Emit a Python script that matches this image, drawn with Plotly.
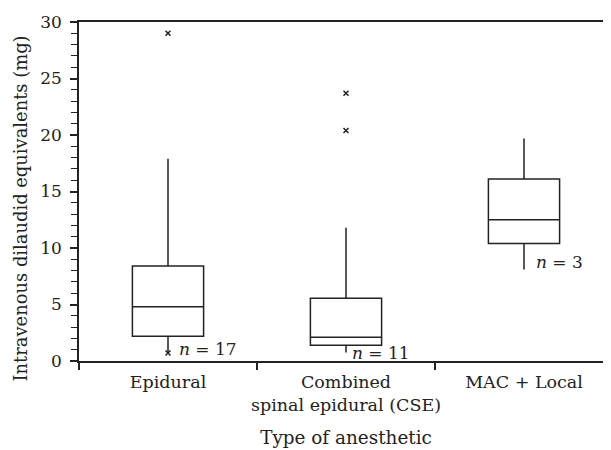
import plotly.graph_objects as go

categories = ["Epidural", "Combined<br>spinal epidural (CSE)", "MAC + Local"]
q1 = [2.2, 1.4, 10.4]
median = [4.8, 2.1, 12.5]
q3 = [8.4, 5.55, 16.1]
lowerfence = [0.7, 0.75, 8.1]
upperfence = [17.9, 11.8, 19.7]

outlier_cat = ["Epidural", "Epidural", "Combined<br>spinal epidural (CSE)", "Combined<br>spinal epidural (CSE)"]
outlier_val = [29.0, 0.7, 23.7, 20.4]

n_labels = ["<i>n</i> = 17", "<i>n</i> = 11", "<i>n</i> = 3"]
n_label_x = [0.05, 1.02, 2.054]
n_label_y = [1.06, 0.75, 8.76]

FONT = "DejaVu Serif, Liberation Serif, serif"
INK = "#222222"

fig = go.Figure()
fig.add_trace(go.Box(
    x=categories, q1=q1, median=median, q3=q3,
    lowerfence=lowerfence, upperfence=upperfence,
    fillcolor="white", line=dict(color=INK, width=1.5),
    whiskerwidth=0, boxpoints=False, showlegend=False, width=0.4,
))
fig.add_trace(go.Scatter(
    x=outlier_cat, y=outlier_val, mode="markers",
    marker=dict(symbol="x-thin", size=5, line=dict(color=INK, width=1.5)),
    showlegend=False, hoverinfo="skip",
))
for t, xv, yv in zip(n_labels, n_label_x, n_label_y):
    fig.add_annotation(x=xv, y=yv, text=t, showarrow=False, xanchor="left",
                       yanchor="middle", font=dict(family=FONT, size=17, color=INK))

# y-axis title as a rotated annotation for exact placement
fig.add_annotation(xref="paper", yref="paper", x=0, y=0.5, xshift=-59, yshift=-17,
                   text="Intravenous dilaudid equivalents (mg)", textangle=-90,
                   showarrow=False, xanchor="center", yanchor="middle",
                   font=dict(family=FONT, size=17.9, color=INK))

fig.update_layout(
    width=611, height=450,
    margin=dict(l=71, r=6, t=14, b=97),
    paper_bgcolor="white", plot_bgcolor="white",
    font=dict(family=FONT, size=17, color=INK),
)
fig.update_xaxes(
    type="category", categoryorder="array", categoryarray=categories,
    range=[-0.5, 2.5], showline=True, linecolor=INK, linewidth=1.5, mirror=True,
    ticks="outside", tickson="boundaries", ticklen=7, tickcolor=INK, tickwidth=1.5,
    tickangle=0, automargin=False, tickfont=dict(size=17.5), ticklabelstandoff=4,
    showgrid=False, zeroline=False,
    title=dict(text="Type of anesthetic", standoff=18, font=dict(size=18.4)),
)
fig.update_yaxes(
    range=[0, 30], dtick=5, showline=True, linecolor=INK, linewidth=1.5,
    ticks="outside", ticklen=7, tickcolor=INK, tickwidth=1.5, ticklabelstandoff=5,
    minor=dict(dtick=1, ticks="outside", ticklen=6, tickcolor=INK, tickwidth=1.2, showgrid=False),
    showgrid=False, zeroline=False, automargin=False,
)
fig.write_html("out.html")
